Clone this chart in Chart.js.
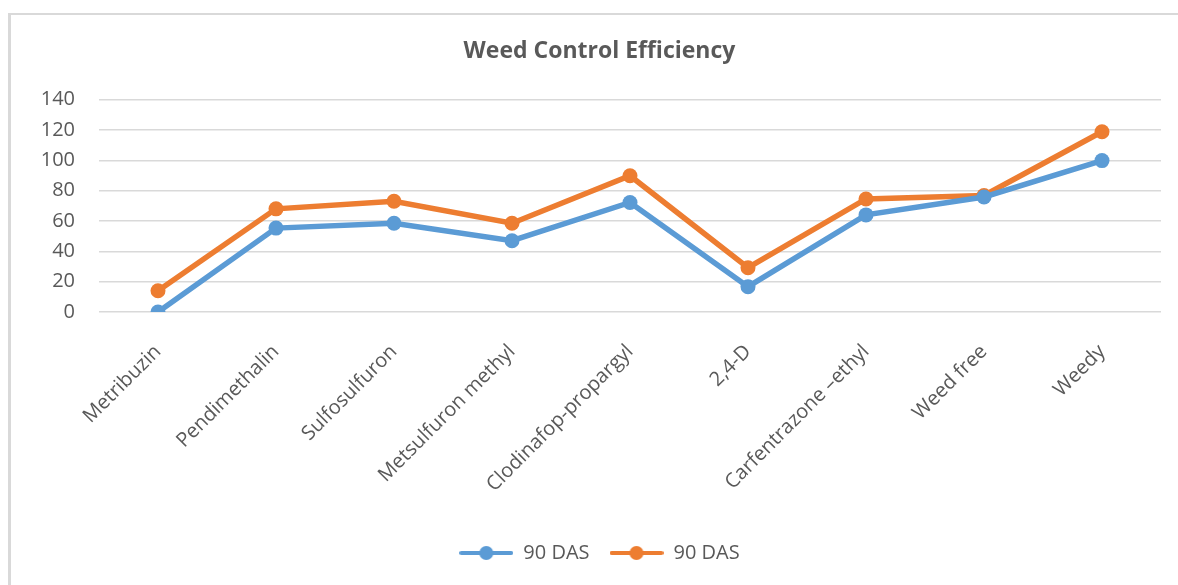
<!DOCTYPE html>
<html>
<head>
    <title>Weed Control Efficiency</title>
    <script src="https://cdn.jsdelivr.net/npm/chart.js"></script>
    <style>
        body { margin: 0; background: #fff; }
        #frame {
            position: absolute; left: 8px; top: 13px; width: 1300px; height: 700px;
            border-top: 2px solid #d9d9d9; border-left: 3px solid #d9d9d9;
        }
        #wrap { position: absolute; left: 0; top: 0; width: 1178px; height: 585px; }
    </style>
</head>
<body>
    <div id="frame"></div>
    <div id="wrap"><canvas id="myChart"></canvas></div>
    <script>
        // Данные графика
        const categories = ['Metribuzin', 'Pendimethalin', 'Sulfosulfuron', 'Metsulfuron methyl',
            'Clodinafop-propargyl', '2,4-D', 'Carfentrazone \u2013ethyl', 'Weed free', 'Weedy'];
        const seriesNames = ['90 DAS', '90 DAS'];
        const blueValues = [0, 55.3, 58.5, 47, 72.2, 16.7, 64, 75.8, 99.8];
        const orangeValues = [14, 68, 73, 58.5, 89.8, 29.2, 74.5, 76.8, 118.8];
        const seriesColors = ['#5B9BD5', '#ED7D31'];
        const yTicks = [0, 20, 40, 60, 80, 100, 120, 140];

        const textColor = '#595959';
        const fontFamily = '"Open Sans", "Liberation Sans", sans-serif';

        // значок легенды: линия с кружком
        function legendIcon(color) {
            const c = document.createElement('canvas');
            c.width = 54; c.height = 16;
            const ctx = c.getContext('2d');
            ctx.strokeStyle = color;
            ctx.lineWidth = 4;
            ctx.lineCap = 'round';
            ctx.beginPath();
            ctx.moveTo(2, 8); ctx.lineTo(52, 8);
            ctx.stroke();
            ctx.fillStyle = color;
            ctx.beginPath();
            ctx.arc(27, 8, 7, 0, Math.PI * 2);
            ctx.fill();
            return c;
        }
        const icons = seriesColors.map(legendIcon);

        const data = {
            labels: categories,
            datasets: [blueValues, orangeValues].map((vals, i) => ({
                label: seriesNames[i],
                data: vals,
                borderColor: seriesColors[i],
                backgroundColor: seriesColors[i],
                borderWidth: 5.5,
                pointRadius: 7.5,
                pointHoverRadius: 7.5,
                pointBorderWidth: 0,
                tension: 0,
                fill: false
            }))
        };

        const config = {
            type: 'line',
            data: data,
            options: {
                responsive: true,
                maintainAspectRatio: false,
                animation: false,
                layout: { padding: { left: 38, right: 17, top: 0, bottom: 12 } },
                plugins: {
                    title: {
                        display: true,
                        text: 'Weed Control Efficiency',
                        color: textColor,
                        font: { family: fontFamily, size: 23, weight: 'bold' },
                        padding: { top: 38, bottom: 34 }
                    },
                    legend: {
                        position: 'bottom',
                        labels: {
                            color: textColor,
                            font: { family: fontFamily, size: 20 },
                            usePointStyle: true,
                            pointStyleWidth: 54,
                            padding: 20,
                            generateLabels: function (chart) {
                                const items = Chart.defaults.plugins.legend.labels.generateLabels(chart);
                                items.forEach((it, i) => { it.pointStyle = icons[i]; });
                                return items;
                            }
                        }
                    },
                    tooltip: { enabled: false }
                },
                scales: {
                    x: {
                        offset: true,
                        grid: { display: false },
                        border: { display: false },
                        ticks: {
                            color: textColor,
                            font: { family: fontFamily, size: 20 },
                            minRotation: 45,
                            maxRotation: 45,
                            padding: 20,
                            autoSkip: false
                        },
                        afterFit: function (scale) { scale.height = 211; }
                    },
                    y: {
                        min: 0,
                        max: 140,
                        grid: { color: '#d9d9d9', lineWidth: 1.5, drawTicks: false },
                        border: { display: false },
                        afterBuildTicks: function (scale) {
                            scale.ticks = yTicks.map(v => ({ value: v }));
                        },
                        ticks: {
                            color: textColor,
                            font: { family: fontFamily, size: 20 },
                            padding: 24
                        },
                        afterFit: function (scale) { scale.width = 61; }
                    }
                }
            }
        };

        const myChart = new Chart(document.getElementById('myChart'), config);
    </script>
</body>
</html>
